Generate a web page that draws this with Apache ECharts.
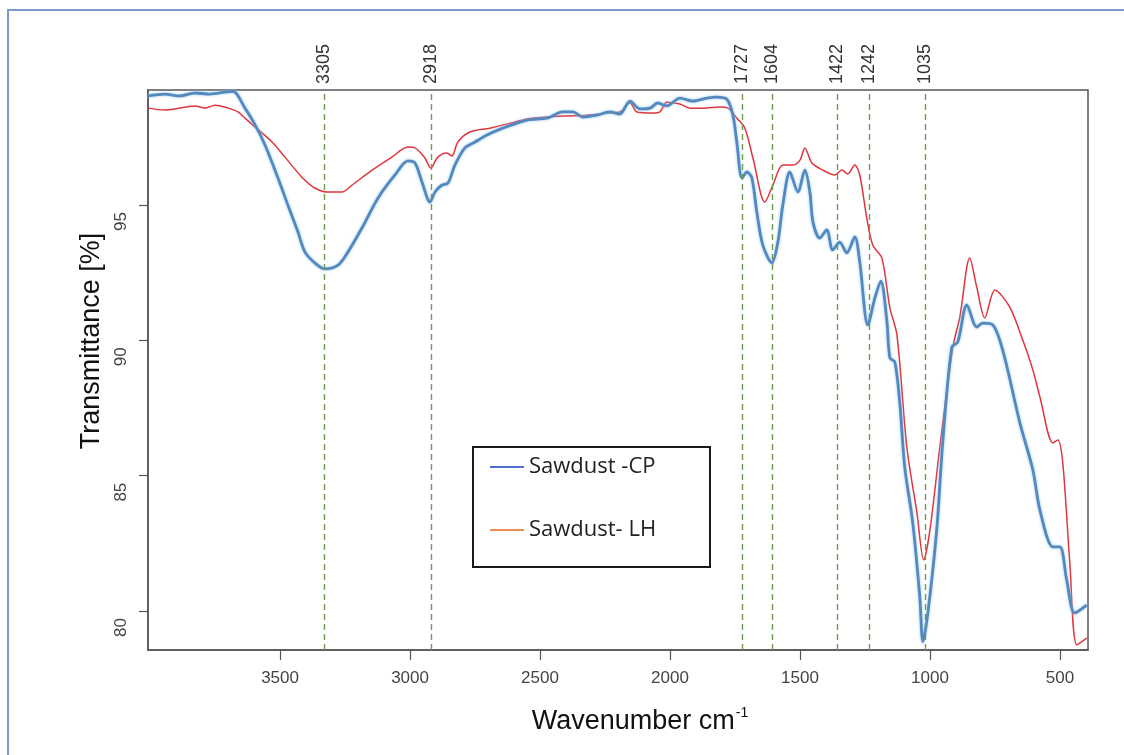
<!DOCTYPE html>
<html>
<head>
<meta charset="utf-8">
<title>FTIR Sawdust</title>
<script src="https://cdn.jsdelivr.net/npm/echarts@6/dist/echarts.min.js"></script>
<style>
html,body{margin:0;padding:0;background:#fff;}
#chart{width:1124px;height:755px;}
</style>
</head>
<body>
<div id="chart"></div>
<script>
// ---- data ----
const wnCP = [4008,3943,3885,3827,3770,3712,3681,3635,3596,3558,3508,3470,3431,3404,3366,3327,3277,3239,3185,3123,3058,3008,2981,2954,2923,2904,2877,2854,2827,2789,2750,2704,2643,2550,2473,2412,2373,2335,2281,2231,2193,2154,2116,2077,2047,2012,1962,1912,1858,1820,1781,1758,1743,1723,1704,1685,1666,1643,1608,1585,1566,1539,1508,1481,1462,1450,1424,1397,1374,1347,1320,1289,1270,1239,1212,1189,1166,1154,1135,1116,1097,1066,1039,1027,1008,974,951,916,893,858,820,797,758,720,654,604,577,527,500,474,443,397];
const tCP  = [99.03,99.10,99.03,99.14,99.10,99.17,99.20,98.58,97.96,97.22,96.00,95.00,94.00,93.26,92.86,92.64,92.78,93.26,94.15,95.26,96.11,96.63,96.55,95.85,95.11,95.48,95.74,95.81,96.48,97.11,97.33,97.59,97.84,98.14,98.21,98.44,98.44,98.25,98.32,98.44,98.36,98.84,98.55,98.58,98.77,98.66,98.95,98.84,98.95,98.99,98.91,98.32,97.33,96.00,96.22,96.00,94.74,93.52,92.86,93.63,95.00,96.22,95.48,96.29,95.48,94.37,93.78,94.08,93.34,93.63,93.23,93.82,92.89,90.57,91.56,92.19,90.75,89.35,89.20,87.69,85.32,83.25,80.52,78.86,79.93,82.99,86.21,89.75,89.94,91.31,90.49,90.64,90.57,89.64,86.95,85.21,83.73,82.37,82.37,81.15,79.93,80.22];

const wnLH = [4008,3943,3827,3789,3750,3700,3662,3635,3596,3531,3481,3416,3366,3316,3262,3223,3146,3070,3008,2981,2943,2920,2893,2858,2839,2816,2770,2693,2627,2550,2473,2396,2320,2243,2193,2154,2127,2066,2039,2012,1962,1923,1873,1808,1777,1743,1712,1681,1635,1604,1566,1527,1500,1481,1454,1412,1366,1339,1316,1289,1270,1243,1220,1185,1154,1127,1089,1050,1024,1000,962,912,885,847,820,789,750,693,643,604,577,527,508,489,462,435,397];
const tLH  = [98.58,98.51,98.66,98.58,98.69,98.58,98.44,98.21,97.88,97.33,96.77,96.03,95.63,95.48,95.48,95.74,96.29,96.77,97.14,97.11,96.74,96.37,96.77,96.92,96.81,97.33,97.70,97.84,97.99,98.18,98.25,98.29,98.32,98.40,98.44,98.77,98.44,98.40,98.44,98.80,98.73,98.58,98.58,98.62,98.58,98.21,97.84,96.74,95.11,95.74,96.48,96.48,96.66,97.11,96.55,96.29,96.11,96.29,96.15,96.48,96.11,94.52,93.52,93.04,91.20,90.20,86.06,83.62,81.89,82.99,86.06,89.75,90.86,93.04,91.97,90.83,91.86,91.23,90.01,88.90,87.91,86.21,86.32,85.47,81.78,78.75,79.00];

const seriesNames = ['Sawdust -CP', 'Sawdust- LH'];
const peakLabels = ['3305','2918','1727','1604','1422','1242','1035'];
const peakLinePos = [3331, 2918, 1723, 1608, 1358, 1235, 1018];
const xTicks = [500,1000,1500,2000,2500,3000,3500];
const yTicks = [80,85,90,95];

// ---- chart ----
const zip = (a, b) => a.map((v, i) => [v, b[i]]);
const chart = echarts.init(document.getElementById('chart'), null, {renderer: 'canvas'});
const FONT = 'Liberation Sans, Arial, sans-serif';

chart.setOption({
  animation: false,
  backgroundColor: '#ffffff',
  grid: {left: 148, top: 90, width: 940, height: 560, show: true, borderColor: '#555', borderWidth: 1.5, backgroundColor: 'transparent'},
  xAxis: [{
    type: 'value', min: 392, max: 4008, inverse: true, position: 'bottom',
    axisLine: {show: true, lineStyle: {color: '#555', width: 1.5}},
    axisTick: {show: true, length: 10, customValues: xTicks, lineStyle: {color: '#555', width: 1.2}},
    axisLabel: {customValues: xTicks, margin: 20, fontSize: 17, color: '#444', fontFamily: FONT, formatter: v => String(v)},
    splitLine: {show: false},
    name: '{a|Wavenumber cm}{s|-1}', nameLocation: 'middle', nameGap: 56,
    nameTextStyle: {
      padding: [0, 0, 0, 44],
      rich: {
        a: {fontSize: 27, color: '#111', fontFamily: FONT, lineHeight: 31},
        s: {fontSize: 14, color: '#111', fontFamily: FONT, verticalAlign: 'top', lineHeight: 31, padding: [0,0,0,1]}
      }
    }
  }, {
    type: 'value', min: 392, max: 4008, inverse: true, position: 'top',
    axisLine: {show: false}, axisTick: {show: false}, splitLine: {show: false},
    axisLabel: {
      customValues: peakLinePos, rotate: -90, margin: 6, fontSize: 18, color: '#333', fontFamily: FONT,
      formatter: v => { const i = peakLinePos.indexOf(v); return i >= 0 ? peakLabels[i] : ''; }
    }
  }],
  yAxis: {
    type: 'value', min: 78.56, max: 99.25,
    axisLine: {show: true, lineStyle: {color: '#555', width: 1.5}},
    axisTick: {show: true, length: 9, customValues: yTicks, lineStyle: {color: '#555', width: 1.2}},
    axisLabel: {customValues: yTicks, rotate: 90, align: 'right', verticalAlign: 'bottom', padding: [0, 7, 0, 0], margin: 18, fontSize: 17, color: '#444', fontFamily: FONT},
    splitLine: {show: false},
    name: 'Transmittance [%]', nameLocation: 'middle', nameRotate: 90, nameGap: 36,
    nameTextStyle: {fontSize: 27, color: '#111', fontFamily: FONT, padding: [0, 0, 0, 58]}
  },
  legend: {
    orient: 'vertical', left: 490, top: 455, itemGap: 39, padding: 0,
    icon: 'rect', itemWidth: 34, itemHeight: 2,
    textStyle: {fontSize: 22, color: '#222', fontFamily: 'Open Sans, Noto Sans, sans-serif', lineHeight: 24},
    data: [
      {name: seriesNames[0], itemStyle: {color: '#4f6fd0'}},
      {name: seriesNames[1], itemStyle: {color: '#ee8a55'}}
    ]
  },
  graphic: [
    {type: 'polyline', shape: {points: [[8, 755], [8, 10], [1124, 10]]}, style: {stroke: '#7b9ad0', lineWidth: 2, fill: null}, silent: true},
    {type: 'rect', shape: {x: 473, y: 447, width: 237, height: 120}, style: {stroke: '#1a1a1a', lineWidth: 2, fill: 'rgba(255,255,255,0)'}, silent: true, z: 5}
  ],
  series: [
    {
      name: seriesNames[1], type: 'line', data: zip(wnLH, tLH), showSymbol: false, smooth: 0.3,
      lineStyle: {color: '#e0353c', width: 1.5}, itemStyle: {color: '#e0353c'}, z: 2
    },
    {
      name: seriesNames[0], type: 'line', data: zip(wnCP, tCP), showSymbol: false, smooth: 0.3,
      lineStyle: {color: '#5688c0', width: 2.8, shadowColor: 'rgba(140,200,235,0.9)', shadowBlur: 3}, itemStyle: {color: '#5688c0'}, z: 3,
      markLine: {
        silent: true, symbol: ['none', 'none'], label: {show: false},
        lineStyle: {color: '#6f9a52', type: [6, 4], width: 1.4},
        data: peakLinePos.map(v => ({xAxis: v}))
      }
    }
  ]
});
</script>
</body>
</html>
